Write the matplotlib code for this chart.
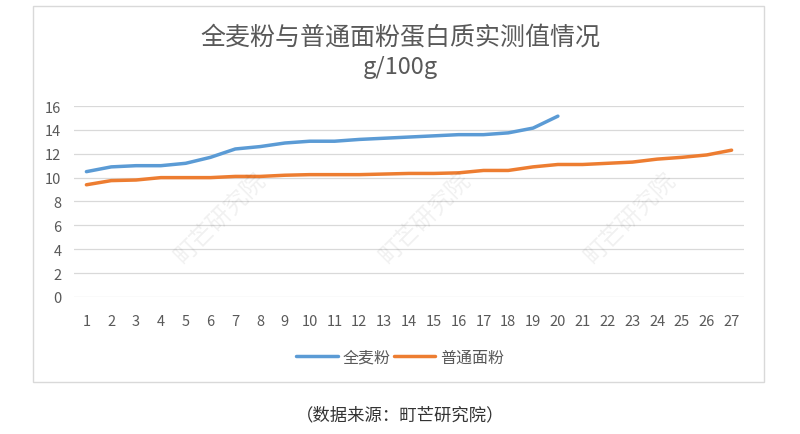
import matplotlib
matplotlib.use("Agg")
import matplotlib.pyplot as plt
from matplotlib.patches import Rectangle

plt.rcParams["font.family"] = ["Noto Sans CJK SC", "DejaVu Sans"]

# 样本编号
samples = list(range(1, 28))
# 全麦粉蛋白质 g/100g
whole_wheat = [10.5, 10.9, 11.0, 11.0, 11.2, 11.7, 12.4, 12.6, 12.9, 13.05,
               13.05, 13.2, 13.3, 13.4, 13.5, 13.6, 13.6, 13.75, 14.15, 15.15]
# 普通面粉蛋白质 g/100g
regular_flour = [9.4, 9.75, 9.8, 10.0, 10.0, 10.0, 10.1, 10.1, 10.2, 10.25,
                 10.25, 10.25, 10.3, 10.35, 10.35, 10.4, 10.6, 10.6, 10.9, 11.1,
                 11.1, 11.2, 11.3, 11.55, 11.7, 11.9, 12.3]
y_ticks = [0, 2, 4, 6, 8, 10, 12, 14, 16]

TEXT = "#595959"
GRID = "#d9d9d9"
BLUE = "#5b9bd5"
ORANGE = "#ed7d31"

fig = plt.figure(figsize=(8, 4.35), dpi=100)
fig.patch.set_facecolor("white")

# chart frame
fig.add_artist(Rectangle((0.041, 0.1195), 0.914, 0.8645, transform=fig.transFigure,
                         fill=False, edgecolor=GRID, linewidth=1.0))

ax = fig.add_axes([0.0925, 0.315, 0.8375, 0.439])
ax.plot(samples[:len(whole_wheat)], whole_wheat, color=BLUE, linewidth=2.5,
        label="全麦粉", solid_capstyle="round")
ax.plot(samples, regular_flour, color=ORANGE, linewidth=2.5,
        label="普通面粉", solid_capstyle="round")

ax.set_xlim(0.5, 27.5)
ax.set_ylim(0, 16)
ax.set_xticks(samples)
ax.set_yticks(y_ticks)
ax.grid(axis="y", color=GRID, linewidth=0.9)
ax.set_axisbelow(True)
for s in ax.spines.values():
    s.set_visible(False)
ax.tick_params(axis="both", length=0, labelsize=10.5, colors=TEXT)
ax.tick_params(axis="y", pad=9)
ax.tick_params(axis="x", pad=12)

fig.text(0.5, 0.913, "全麦粉与普通面粉蛋白质实测值情况", ha="center", va="center",
         fontsize=18, color=TEXT)
fig.text(0.5, 0.844, "g/100g", ha="center", va="center", fontsize=17, color=TEXT)

fig.legend(loc="center", bbox_to_anchor=(0.5, 0.177), ncol=2, frameon=False,
           fontsize=11.5, labelcolor=TEXT, handlelength=2.6, handletextpad=0.3,
           columnspacing=0.2)

fig.text(0.5, 0.046, "（数据来源：町芒研究院）", ha="center", va="center",
         fontsize=12.5, color="#333333")

# watermark (only the copies that sit fully inside the picture)
for cx in [220, 425, 630]:
    fig.text(cx / 800, 1 - 218 / 435, "町芒研究院", ha="center", va="center",
             rotation=45, fontsize=17, color="#000000", alpha=0.06)

fig.savefig("out.png", dpi=100)
